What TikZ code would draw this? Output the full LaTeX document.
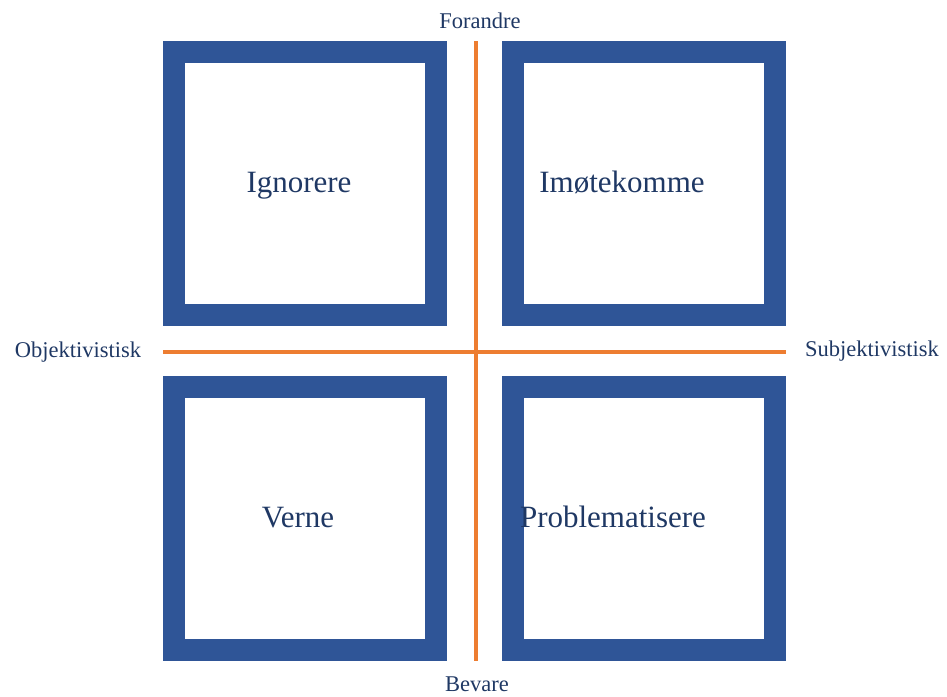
\documentclass[tikz,border=0pt]{standalone}
\usepackage{fontspec}
\setmainfont{Liberation Serif}
\definecolor{boxblue}{HTML}{2F5597}
\definecolor{axisorange}{HTML}{ED7D31}
\definecolor{textnavy}{HTML}{1F3864}
\tikzset{
    quadrant/.style={draw=boxblue, line width=22pt, minimum width=262pt, minimum height=263pt, inner sep=0pt, outer sep=0pt},
    axis/.style={draw=axisorange, line width=4.5pt},
    biglabel/.style={text=textnavy, font=\fontsize{31}{36}\selectfont, inner sep=0pt, anchor=base},
    axislabel/.style={text=textnavy, font=\fontsize{22.5}{26}\selectfont, inner sep=0pt, anchor=base}
}
\begin{document}
\begin{tikzpicture}[x=1pt, y=-1pt]
        \useasboundingbox (0,0) rectangle (947,696);

        \node[quadrant] (ignorere) at (305,183.5) {};
        \node[quadrant] (imoete) at (643.5,183.5) {};
        \node[quadrant] (verne) at (305,518.5) {};
        \node[quadrant] (problem) at (643.5,518.5) {};

        \coordinate (top) at (476,41);
        \coordinate (bottom) at (476,661);
        \coordinate (left) at (163,352);
        \coordinate (right) at (786,352);
        \draw[axis] (top) -- (bottom);
        \draw[axis] (left) -- (right);

        \node[biglabel] (ignoreretext) at (299,192) {Ignorere};
        \node[biglabel] (imoetetext) at (622,192) {Imøtekomme};
        \node[biglabel] (vernetext) at (298,527) {Verne};
        \node[biglabel] (problemtext) at (613,527) {Problematisere};

        \node[axislabel] (forandre) at (480,28.5) {Forandre};
        \node[axislabel] (bevare) at (477,691) {Bevare};
        \node[axislabel] (objektiv) at (78,357) {Objektivistisk};
        \node[axislabel] (subjektiv) at (872,356.5) {Subjektivistisk};
\end{tikzpicture}
\end{document}
